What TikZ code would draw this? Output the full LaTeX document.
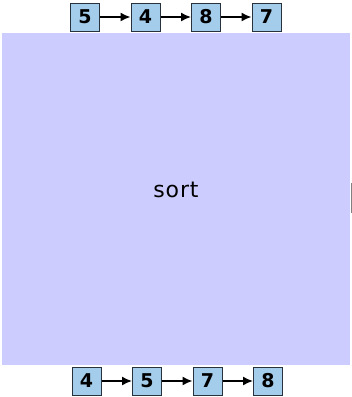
\documentclass[tikz,border=0pt]{standalone}
\usepackage{fontspec}
\setmainfont{DejaVu Sans}
\usetikzlibrary{arrows.meta}
\definecolor{sortbg}{RGB}{204,204,255}
\definecolor{cellbg}{RGB}{163,205,235}
\definecolor{cellline}{RGB}{40,50,60}
\tikzset{
  cell/.style={draw=cellline, line width=1pt, fill=cellbg, minimum width=29pt, minimum height=28pt, inner sep=0pt, font=\fontsize{19}{19}\selectfont\bfseries},
  link/.style={line width=1.5pt, -{Latex[length=10pt,width=9pt]}}
}
\begin{document}
\begin{tikzpicture}[x=1pt,y=-1pt]
\useasboundingbox (0,0) rectangle (352,397);
\node[fill=sortbg, minimum width=348pt, minimum height=332pt, inner sep=0pt] (box) at (176,199) {};
\node[font=\fontsize{22}{22}\selectfont\addfontfeatures{LetterSpace=4}] (lbl) at (176,190) {sort};
\draw[gray, line width=1pt] (351,183) -- (351,213);
% top
\node[cell] (t1) at (85,17) {5};
\node[cell] (t2) at (145.5,17) {4};
\node[cell] (t3) at (206,17) {8};
\node[cell] (t4) at (266.5,17) {7};
\draw[link] (t1) -- (t2);
\draw[link] (t2) -- (t3);
\draw[link] (t3) -- (t4);
% bottom
\node[cell] (b1) at (86.5,381) {4};
\node[cell] (b2) at (147,381) {5};
\node[cell] (b3) at (207.5,381) {7};
\node[cell] (b4) at (268,381) {8};
\draw[link] (b1) -- (b2);
\draw[link] (b2) -- (b3);
\draw[link] (b3) -- (b4);
\end{tikzpicture}
\end{document}
